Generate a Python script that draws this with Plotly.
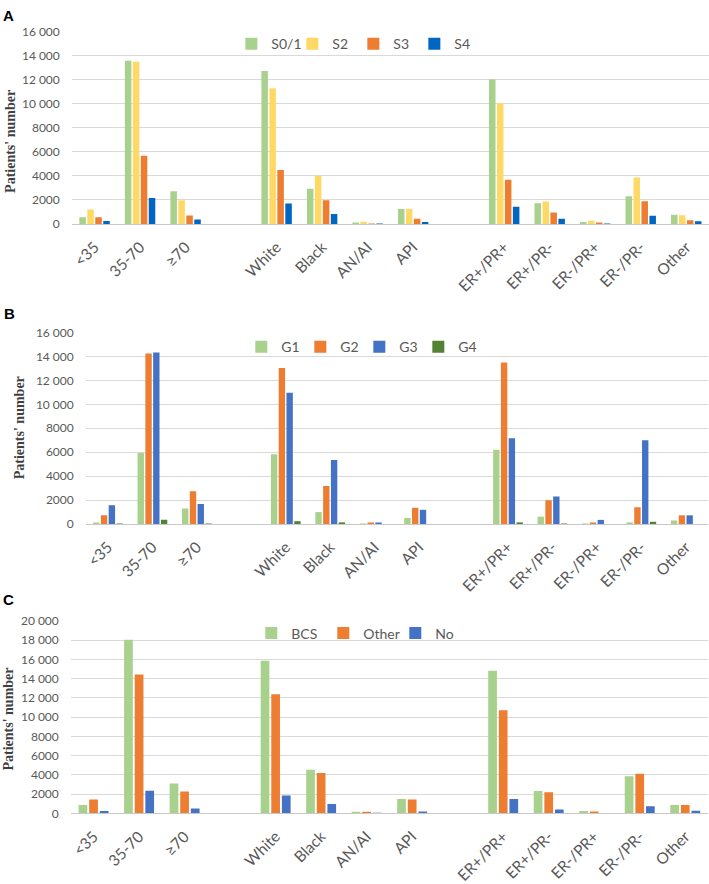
import plotly.graph_objects as go

W, H = 709, 884

# ---------------- data ----------------
categories = ["<35", "35-70", "≥70", "White", "Black", "AN/AI", "API",
              "ER+/PR+", "ER+/PR-", "ER-/PR+", "ER-/PR-", "Other"]
# category order on the axis (blank spacer slots between groups)
category_order = ["<35", "35-70", "≥70", " ", "White", "Black", "AN/AI", "API", "  ",
                  "ER+/PR+", "ER+/PR-", "ER-/PR+", "ER-/PR-", "Other"]

# Panel A - stage
stage_names = ["S0/1", "S2", "S3", "S4"]
s01 = [570, 13560, 2730, 12720, 2920, 80, 1250, 12000, 1730, 160, 2300, 760]
s2 = [1200, 13480, 1980, 11290, 4000, 190, 1250, 10040, 1870, 270, 3870, 730]
s3 = [570, 5680, 700, 4490, 1980, 30, 430, 3680, 950, 110, 1900, 320]
s4 = [240, 2170, 380, 1700, 840, 10, 160, 1430, 430, 20, 680, 220]

# Panel B - grade
grade_names = ["G1", "G2", "G3", "G4"]
g1 = [140, 5940, 1300, 5830, 1000, 40, 515, 6210, 620, 20, 140, 300]
g2 = [730, 14240, 2740, 13040, 3170, 80, 1360, 13500, 1980, 110, 1410, 730]
g3 = [1570, 14320, 1680, 10960, 5340, 80, 1190, 7160, 2300, 350, 7000, 730]
g4 = [20, 350, 10, 240, 140, 0, 0, 140, 10, 0, 190, 0]

# Panel C - surgery
surg_names = ["BCS", "Other", "No"]
bcs = [880, 18040, 3110, 15840, 4530, 135, 1490, 14800, 2330, 240, 3850, 880]
oth = [1450, 14430, 2260, 12360, 4190, 170, 1450, 10710, 2200, 200, 4120, 880]
no = [240, 2360, 510, 1860, 980, 10, 200, 1490, 405, 0, 740, 270]

y_ticks_ab = [0, 2000, 4000, 6000, 8000, 10000, 12000, 14000, 16000]
y_ticks_c = [0, 2000, 4000, 6000, 8000, 10000, 12000, 14000, 16000, 18000, 20000]

y_title = "Patients' number"
panel_letters = ["A", "B", "C"]


def fmt(v):
    return f"{v:,}".replace(",", " ") if v >= 10000 else str(v)


# ---------------- styles ----------------
GREEN = "#A9D18E"
YELLOW = "#FFD966"
ORANGE = "#ED7D31"
BLUE_DARK = "#0066C2"
BLUE = "#4472C4"
DKGREEN = "#548235"
GRID = "#D9D9D9"
TXT = "#595959"
SANS = "Lato"


def xp(px):
    return px / W


def yp(py):
    return 1 - py / H


fig = go.Figure()

panels = [
    (list(zip(stage_names, [s01, s2, s3, s4], [GREEN, YELLOW, ORANGE, BLUE_DARK]))),
    (list(zip(grade_names, [g1, g2, g3, g4], [GREEN, ORANGE, BLUE, DKGREEN]))),
    (list(zip(surg_names, [bcs, oth, no], [GREEN, ORANGE, BLUE]))),
]
# plot-area boxes in pixels: (left, right, top, bottom)
boxes = [(70, 709, 24, 221), (84, 708, 332, 528), (69, 708, 627, 824)]
legend_pos = [(230, 37), (240, 347), (250, 640)]
legend_entry = [16, 14, 27]
yticks = [y_ticks_ab, y_ticks_ab, y_ticks_c]
title_pos = [(9, 136), (17, 429), (7, 727)]
letter_pos = [(7, 8), (8, 313), (7, 605)]

for i, traces in enumerate(panels):
    sfx = "" if i == 0 else str(i + 1)
    leg = "legend" if i == 0 else f"legend{i + 1}"
    for name, vals, col in traces:
        fig.add_trace(go.Bar(
            x=categories, y=vals, name=name, marker_color=col,
            marker_line_width=0,
            xaxis="x" + sfx, yaxis="y" + sfx, legend=leg,
        ))
    l, r, t, b = boxes[i]
    tv = yticks[i]
    fig.update_layout(**{
        "xaxis" + sfx: dict(
            domain=[xp(l), xp(r)], anchor="y" + sfx,
            type="category", categoryorder="array", categoryarray=category_order,
            range=[-0.5, len(category_order) - 0.5],
            tickangle=-45, tickfont=dict(family=SANS, size=15.5, color=TXT),
            showline=True, linecolor="#C8C8C8", linewidth=1.2,
            showgrid=False, ticks="", ticklabelstandoff=7,
        ),
        "yaxis" + sfx: dict(
            domain=[yp(b), yp(t)], anchor="x" + sfx,
            range=[0, tv[-1]], tickvals=tv, ticktext=[fmt(v) for v in tv],
            tickfont=dict(family=SANS, size=12, color=TXT),
            showgrid=True, gridcolor=GRID, gridwidth=1.2, zeroline=False,
            showline=False, ticks="", ticklabelstandoff=11,
        ),
        leg: dict(
            orientation="h", x=xp(legend_pos[i][0]), y=yp(legend_pos[i][1]),
            xanchor="left", yanchor="middle", bgcolor="rgba(0,0,0,0)",
            font=dict(family=SANS, size=14, color=TXT),
            itemwidth=30, tracegroupgap=0,
            entrywidth=legend_entry[i], entrywidthmode="pixels",
        ),
    })
    fig.add_annotation(
        text=f"<b>{y_title}</b>", textangle=-90, showarrow=False,
        xref="paper", yref="paper", x=xp(title_pos[i][0]), y=yp(title_pos[i][1]),
        xanchor="center", yanchor="middle",
        font=dict(family="Liberation Serif", size=14, color="#3F3F3F"),
    )
    fig.add_annotation(
        text=f"<b>{panel_letters[i]}</b>", showarrow=False,
        xref="paper", yref="paper", x=xp(letter_pos[i][0]), y=yp(letter_pos[i][1]),
        xanchor="center", yanchor="middle",
        font=dict(family="Liberation Sans", size=15, color="#000000"),
    )

fig.update_layout(
    width=W, height=H, margin=dict(l=0, r=0, t=0, b=0),
    paper_bgcolor="white", plot_bgcolor="white",
    barmode="group", bargap=0.3, bargroupgap=0.18,
    showlegend=True, hovermode=False,
)

fig.write_html(
    "out.html",
    config={"displayModeBar": False},
    post_script="document.body.style.margin='0';document.body.style.overflow='hidden';",
)
